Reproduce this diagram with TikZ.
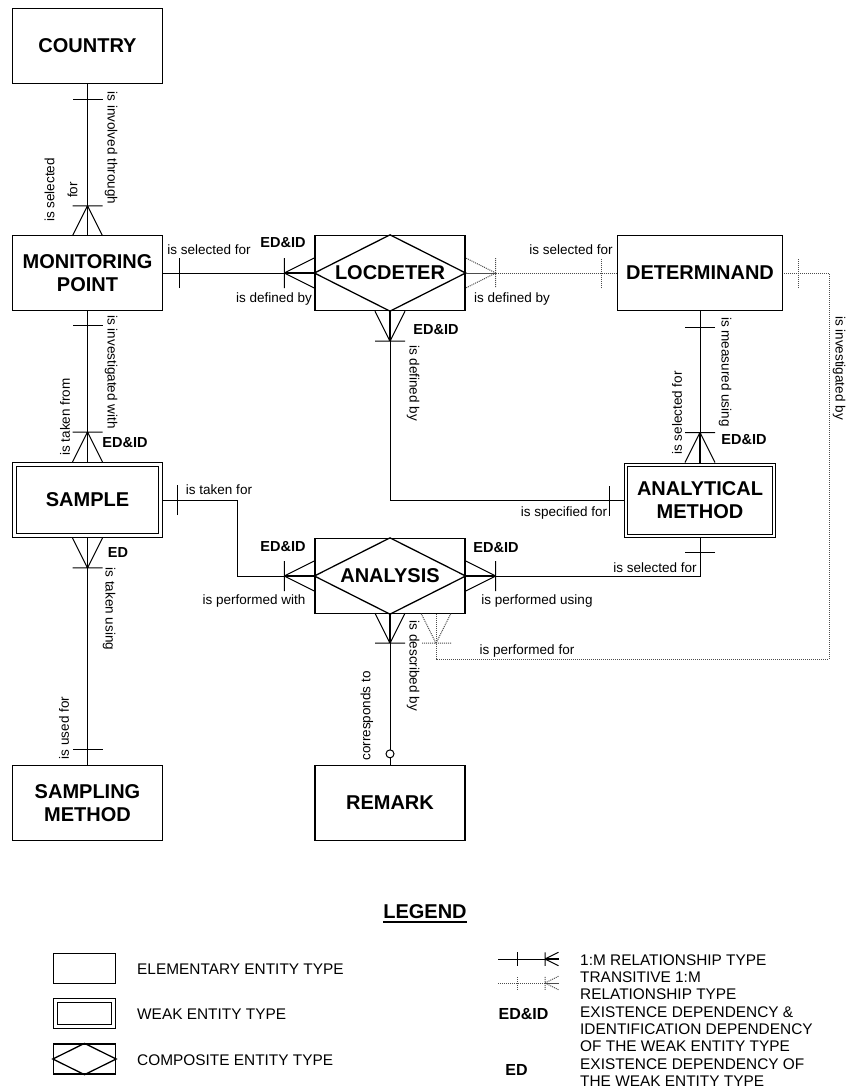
\documentclass[tikz,border=0pt]{standalone}
\usepackage{fontspec}
\setmainfont{Liberation Sans}
\usetikzlibrary{calc}

\tikzset{
  entity/.style={draw, line width=1.3pt, minimum width=150pt, minimum height=75pt,
    align=center, inner sep=0pt, font=\bfseries\fontsize{20}{23}\selectfont},
  weak/.style={entity, double, line width=1.2pt, double distance=2.5pt, outer sep=2.45pt,
    minimum width=146pt, minimum height=71pt},
  lbl/.style={inner sep=0pt, font=\fontsize{13.5}{16}\selectfont},
  dep/.style={inner sep=0pt, font=\bfseries\fontsize{14.5}{17}\selectfont},
  legtext/.style={inner sep=0pt, anchor=west, font=\fontsize{15.4}{17.3}\selectfont},
  conn/.style={line width=1pt},
  trans/.style={line width=1pt, densely dotted, black!70, footmid/.style={}},
  footmid/.style={line width=1.8pt},
  % crow's foot with its bar, apex at the origin, opening towards +x
  pics/manyend/.style={code={
    \draw[conn, footmid] (0,0) -- (30,0);
    \draw[conn] (0,0) -- (30,15) (0,0) -- (30,-15) (0,15) -- (0,-15);
  }},
  pics/onebar/.style={code={\draw[conn] (0,15) -- (0,-15);}},
}

\begin{document}
\begin{tikzpicture}[x=1pt, y=-1pt]
  \useasboundingbox (0,0) rectangle (845,1091);

  % Entities.
  \node[entity] (country) at (87.5,46) {COUNTRY};
  \node[entity] (monpoint) at (87.5,273) {MONITORING\\POINT};
  \node[entity] (locdeter) at (390,273) {LOCDETER};
  \node[entity, minimum width=165pt] (determinand) at (700,273) {DETERMINAND};
  \node[weak] (sample) at (87.5,500) {SAMPLE};
  \node[weak, minimum width=148pt] (anmethod) at (700,500.5) {ANALYTICAL\\METHOD};
  \node[entity] (analysis) at (390,576) {ANALYSIS};
  \node[entity] (sampmethod) at (87.5,803) {SAMPLING\\METHOD};
  \node[entity] (remark) at (390,803) {REMARK};
  \foreach \n in {locdeter, analysis}
    \draw[line width=1.3pt] (\n.west) -- (\n.north) -- (\n.east) -- (\n.south) -- cycle;

  % Country - monitoring point.
  \draw[conn] (country) -- (monpoint);
  \pic[rotate=90] at ($(country.south)+(0,15)$) {onebar};
  \pic[rotate=-90] at ($(monpoint.north)+(0,-29)$) {manyend};

  % Monitoring point - locdeter.
  \draw[conn] (monpoint) -- (locdeter);
  \pic at ($(monpoint.east)+(16,0)$) {onebar};
  \pic at ($(locdeter.west)+(-30,0)$) {manyend};

  % Locdeter - determinand (transitive).
  \draw[trans] (locdeter) -- (determinand);
  \pic[trans, rotate=180] at ($(locdeter.east)+(30,0)$) {manyend};
  \pic[trans] at ($(determinand.west)+(-15,0)$) {onebar};

  % Locdeter - analytical method.
  \draw[conn] (locdeter.south) |- (anmethod.west);
  \pic[rotate=90] at ($(locdeter.south)+(0,30)$) {manyend};
  \pic at ($(anmethod.west)+(-14,0)$) {onebar};

  % Determinand - analytical method.
  \draw[conn] (determinand) -- (anmethod);
  \pic[rotate=90] at ($(determinand.south)+(0,16)$) {onebar};
  \pic[rotate=-90] at ($(anmethod.north)+(0,-30)$) {manyend};

  % Monitoring point - sample.
  \draw[conn] (monpoint) -- (sample);
  \pic[rotate=90] at ($(monpoint.south)+(0,14)$) {onebar};
  \pic[rotate=-90] at ($(sample.north)+(0,-30)$) {manyend};

  % Sample - analysis.
  \draw[conn] (sample.east) -- ++(75,0) |- (analysis.west);
  \pic at ($(sample.east)+(15,0)$) {onebar};
  \pic at ($(analysis.west)+(-30,0)$) {manyend};

  % Analytical method - analysis.
  \draw[conn] (anmethod.south) |- (analysis.east);
  \pic[rotate=90] at ($(anmethod.south)+(0,14)$) {onebar};
  \pic[rotate=180] at ($(analysis.east)+(30,0)$) {manyend};

  % Sample - sampling method.
  \draw[conn] (sample) -- (sampmethod);
  \pic[rotate=90] at ($(sample.south)+(0,30)$) {manyend};
  \pic[rotate=90] at ($(sampmethod.north)+(0,-15)$) {onebar};

  % Analysis - remark.
  \draw[conn] (analysis) -- (remark);
  \pic[rotate=90] at ($(analysis.south)+(0,29)$) {manyend};
  \draw[conn, fill=white] ($(remark.north)+(0,-11)$) circle (4pt);

  % Analysis - determinand (transitive).
  \coordinate (bend) at (829,659);
  \draw[trans] ($(analysis.south)+(46,0)$) |- (bend) |- (determinand.east);
  \pic[trans, rotate=90] at ($(analysis.south)+(46,29)$) {manyend};
  \pic[trans] at ($(determinand.east)+(15,0)$) {onebar};

  % Role names.
  \node[lbl, rotate=-90] (r1) at (111,148) {is involved through};
  \node[lbl, rotate=90, align=center, font=\fontsize{13.5}{23}\selectfont] (r2) at (61,190) {is selected\\for};
  \node[lbl] (r3) at (209,250) {is selected for};
  \node[lbl] (r4) at (274,299) {is defined by};
  \node[lbl] (r5) at (571,250) {is selected for};
  \node[lbl] (r6) at (512,299) {is defined by};
  \node[lbl, rotate=-90] (r7) at (413,383) {is defined by};
  \node[lbl] (r8) at (564,513) {is specified for};
  \node[lbl, rotate=-90] (r9) at (725,372) {is measured using};
  \node[lbl, rotate=90] (r10) at (677,413) {is selected for};
  \node[lbl, rotate=-90] (r11) at (839,368) {is investigated by};
  \node[lbl, rotate=-90] (r12) at (111,372) {is investigated with};
  \node[lbl, rotate=90] (r13) at (65,417) {is taken from};
  \node[lbl] (r14) at (219,490) {is taken for};
  \node[lbl] (r15) at (254,601) {is performed with};
  \node[lbl] (r16) at (537,601) {is performed using};
  \node[lbl] (r17) at (655,568) {is selected for};
  \node[lbl, rotate=-90] (r18) at (109,609) {is taken using};
  \node[lbl, rotate=90] (r19) at (64,728) {is used for};
  \node[lbl, rotate=-90] (r20) at (413,666) {is described by};
  \node[lbl, rotate=90] (r21) at (367,716) {corresponds to};
  \node[lbl] (r22) at (527,651) {is performed for};

  % Dependencies.
  \node[dep] (d1) at (283,243) {ED\&ID};
  \node[dep] (d2) at (436,330) {ED\&ID};
  \node[dep] (d3) at (744,440) {ED\&ID};
  \node[dep] (d4) at (125,443) {ED\&ID};
  \node[dep] (d5) at (283,547) {ED\&ID};
  \node[dep] (d6) at (496,548) {ED\&ID};
  \node[dep] (d7) at (118,553) {ED};

  % Legend.
  \node[inner sep=0pt, font=\bfseries\fontsize{20}{24}\selectfont] (legend) at (425,912) {LEGEND};
  \draw[line width=2pt] ($(legend.south west)+(0,2.5)$) -- ($(legend.south east)+(0,2.5)$);

  \node[draw, line width=1.3pt, minimum width=62pt, minimum height=30pt, inner sep=0pt] (legelem) at (84.5,968.5) {};
  \node[draw, double, line width=1.2pt, double distance=2.5pt, minimum width=58pt, minimum height=26pt, inner sep=0pt] (legweak) at (84.5,1013.5) {};
  \node[draw, line width=1.3pt, minimum width=62pt, minimum height=30pt, inner sep=0pt] (legcomp) at (84.5,1059) {};
  \draw[line width=1.3pt] (legcomp.west) -- (legcomp.north) -- (legcomp.east) -- (legcomp.south) -- cycle;
  \node[legtext] (t1) at (137,969) {ELEMENTARY ENTITY TYPE};
  \node[legtext] (t2) at (137,1014) {WEAK ENTITY TYPE};
  \node[legtext] (t3) at (137,1060) {COMPOSITE ENTITY TYPE};

  \coordinate (relA) at (498,959);
  \coordinate (relB) at (559,959);
  \draw[conn] (relA) -- (relB);
  \pic[scale=0.45] at (517,959) {onebar};
  \pic[scale=0.45] at (545,959) {manyend};
  \coordinate (transA) at (498,983);
  \coordinate (transB) at (559,983);
  \draw[trans] (transA) -- (transB);
  \pic[trans, scale=0.45] at (517,983) {onebar};
  \pic[trans, scale=0.45] at (545,983) {manyend};
  \node[dep, font=\bfseries\fontsize{16}{19}\selectfont] (ledid) at (523.5,1014) {ED\&ID};
  \node[dep, font=\bfseries\fontsize{16}{19}\selectfont] (led) at (516.5,1070) {ED};

  \node[legtext] (t4) at (580,960) {1:M RELATIONSHIP TYPE};
  \node[legtext] (t5) at (580,977.3) {TRANSITIVE 1:M};
  \node[legtext] (t6) at (580,994.6) {RELATIONSHIP TYPE};
  \node[legtext] (t7) at (580,1011.9) {EXISTENCE DEPENDENCY \&};
  \node[legtext] (t8) at (580,1029.2) {IDENTIFICATION DEPENDENCY};
  \node[legtext] (t9) at (580,1046.5) {OF THE WEAK ENTITY TYPE};
  \node[legtext] (t10) at (580,1063.8) {EXISTENCE DEPENDENCY OF};
  \node[legtext] (t11) at (580,1081.1) {THE WEAK ENTITY TYPE};
\end{tikzpicture}
\end{document}
